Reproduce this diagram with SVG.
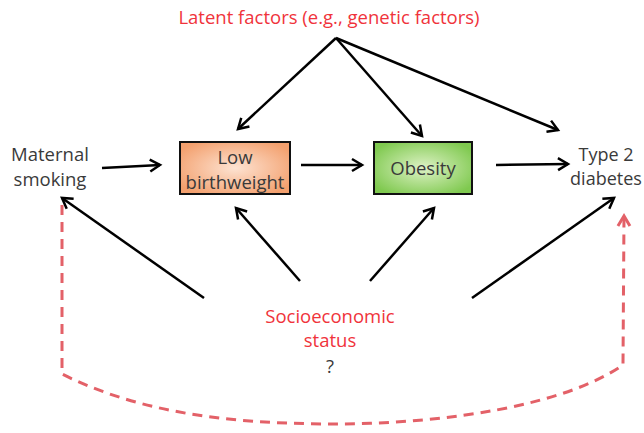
<svg xmlns="http://www.w3.org/2000/svg" width="644" height="433" viewBox="0 0 644 433">
<style>
text{font-family:"Open Sans","Noto Sans","Liberation Sans",sans-serif;font-size:18.5px;fill:#3a3a3a;text-anchor:middle}
.red{fill:#f0333b}
.c{fill:none;stroke:#000;stroke-width:2.5;marker-end:url(#ah)}
.d{fill:none;stroke:#e36168;stroke-width:3;stroke-dasharray:10 7;}
.box{stroke:#111;stroke-width:2}
</style>
<defs>
<marker id="ah" markerUnits="userSpaceOnUse" markerWidth="16" markerHeight="16" refX="12" refY="7" orient="auto" viewBox="0 0 16 14">
<path d="M2,1 L12,7 L2,13" fill="none" stroke="#000" stroke-width="2.5"/>
</marker>
<marker id="ahr" markerUnits="userSpaceOnUse" markerWidth="16" markerHeight="16" refX="12" refY="7" orient="auto" viewBox="0 0 16 14">
<path d="M2,1 L12,7 L2,13" fill="none" stroke="#e36168" stroke-width="3"/>
</marker>
<radialGradient id="go" cx="0.5" cy="0.5" r="0.6">
<stop offset="0" stop-color="#fde3d2"/>
<stop offset="1" stop-color="#f3a06e"/>
</radialGradient>
<radialGradient id="gg" cx="0.5" cy="0.5" r="0.6">
<stop offset="0" stop-color="#def2c6"/>
<stop offset="1" stop-color="#7fc94f"/>
</radialGradient>
</defs>
<g id="latent"><text class="red" x="329" y="24">Latent factors (e.g., genetic factors)</text></g>
<g id="maternal"><text x="50" y="161">Maternal</text><text x="50" y="186">smoking</text></g>
<g id="lbw"><rect class="box" x="180" y="142" width="110" height="52" fill="url(#go)"/><text x="235" y="164">Low</text><text x="235" y="189">birthweight</text></g>
<g id="obesity"><rect class="box" x="374" y="142" width="98" height="52" fill="url(#gg)"/><text x="423" y="175">Obesity</text></g>
<g id="t2d" style="font-size:18px"><text x="606" y="161" style="font-size:18px">Type 2</text><text x="606" y="185" style="font-size:18px">diabetes</text></g>
<g id="ses"><text class="red" x="330" y="323">Socioeconomic</text><text class="red" x="330" y="347">status</text><text x="330" y="373">?</text></g>
<g id="connectors">
<path class="c" d="M102,168 L160,165"/>
<path class="c" d="M301,165 L362,165"/>
<path class="c" d="M496,165 L568,164"/>
<path class="c" d="M336,38 L238,129"/>
<path class="c" d="M336,38 L422,136"/>
<path class="c" d="M336,38 L558,130"/>
<path class="c" d="M204,298 L62,198"/>
<path class="c" d="M300,281 L236,208"/>
<path class="c" d="M370,281 L434,208"/>
<path class="c" d="M472,298 L614,198"/>
<path class="d" d="M62,205 L62,374 C150,418 250,424 340,424 C450,423 565,405 623,365 L624,216" marker-end="url(#ahr)"/>
</g>
</svg>
